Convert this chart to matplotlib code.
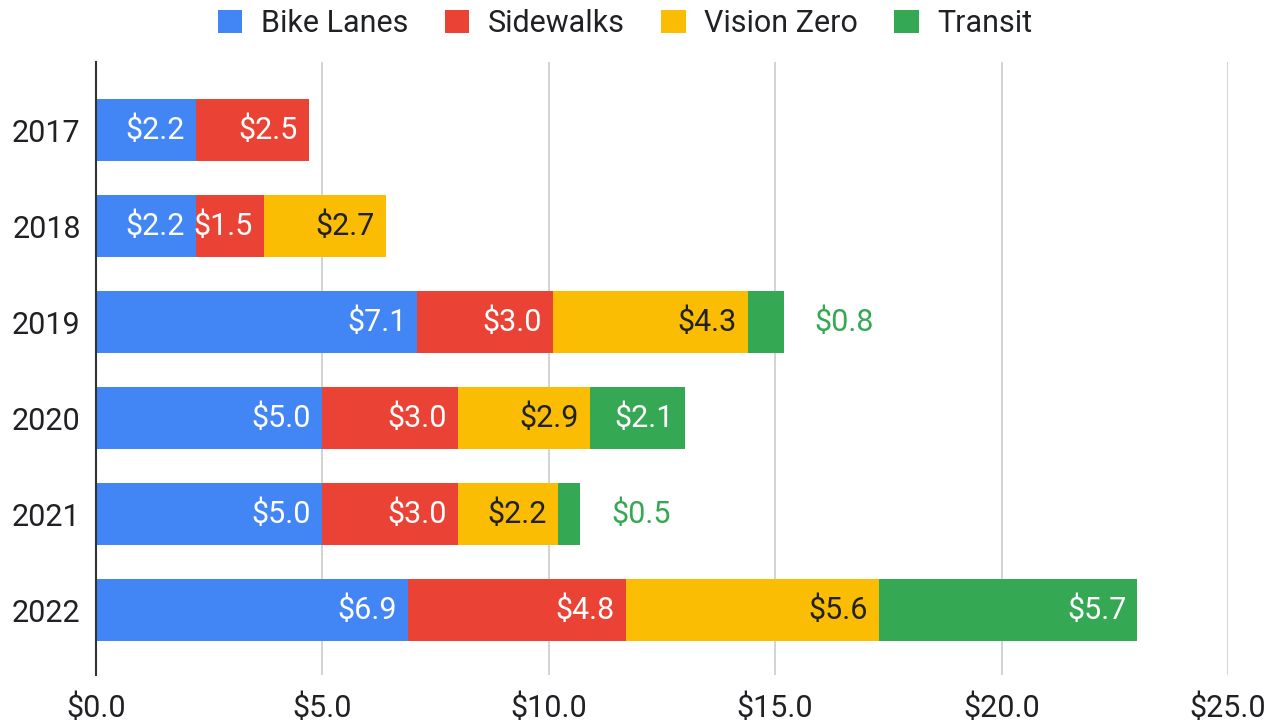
import matplotlib.pyplot as plt
import numpy as np

plt.rcParams['font.family'] = ['Roboto', 'DejaVu Sans']

# data (millions of dollars)
years = ["2017", "2018", "2019", "2020", "2021", "2022"]
series = ["Bike Lanes", "Sidewalks", "Vision Zero", "Transit"]
bike = [2.2, 2.2, 7.1, 5.0, 5.0, 6.9]
sidewalks = [2.5, 1.5, 3.0, 3.0, 3.0, 4.8]
vision = [0.0, 2.7, 4.3, 2.9, 2.2, 5.6]
transit = [0.0, 0.0, 0.8, 2.1, 0.5, 5.7]
xticks = [0, 5, 10, 15, 20, 25]

colors = ["#4285F4", "#EA4335", "#FBBC04", "#34A853"]
text_colors = ["white", "white", "#202124", "white"]

fig = plt.figure(figsize=(12.68, 7.23), dpi=100)
ax = fig.add_axes([0.0757, 0.066, 0.8927, 0.848])

y = np.arange(len(years))
left = np.zeros(len(years))
for vals, name, col, tcol in zip([bike, sidewalks, vision, transit], series, colors, text_colors):
    vals = np.array(vals)
    ax.barh(y, vals, left=left, height=0.65, color=col, label=name, zorder=3)
    for yi, v, l in zip(y, vals, left):
        if v <= 0:
            continue
        lab = f"${v:.1f}"
        if v < 1.0:
            # too narrow: label goes outside, in the series colour
            ax.annotate(lab, (l + v, yi), xytext=(22, 0), textcoords="offset points",
                        ha="left", va="center", fontsize=22, color=col, zorder=4)
        else:
            ax.annotate(lab, (l + v, yi), xytext=(-8, 0), textcoords="offset points",
                        ha="right", va="center", fontsize=22, color=tcol, zorder=4)
    left = left + vals

ax.set_xlim(0, 25)
ax.set_ylim(5.677, -0.708)
ax.set_yticks(y)
ax.set_yticklabels(years)
ax.set_xticks(xticks)
ax.set_xticklabels([f"${t:.1f}" for t in xticks])
ax.tick_params(axis="both", length=0, labelsize=22, colors="#202124")
ax.tick_params(axis="x", pad=13)
ax.tick_params(axis="y", pad=11)

ax.grid(axis="x", color="#cccccc", linewidth=1.2, zorder=0)
for s in ["top", "right", "bottom"]:
    ax.spines[s].set_visible(False)
ax.spines["left"].set_color("#333333")
ax.spines["left"].set_linewidth(1.5)
ax.spines["left"].set_zorder(5)

fig.legend(loc="upper center", bbox_to_anchor=(0.493, 1.025), ncol=4, frameon=False,
           fontsize=22, handlelength=0.8, handleheight=0.8, handletextpad=0.6,
           columnspacing=1.2, labelcolor="#202124")

plt.savefig("out.png", dpi=100)
